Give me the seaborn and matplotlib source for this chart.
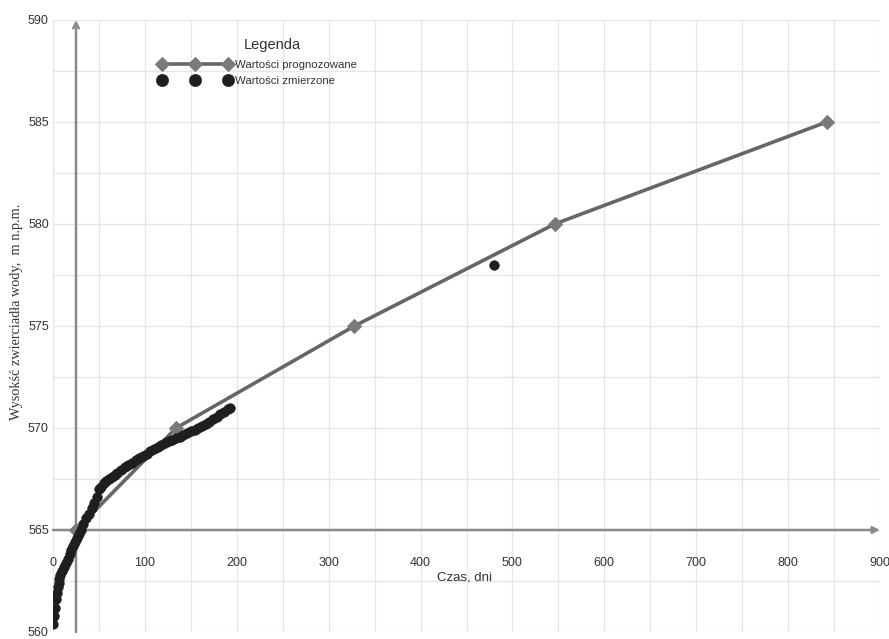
import matplotlib
matplotlib.use("Agg")
import matplotlib.pyplot as plt
import seaborn as sns
import numpy as np
import pandas as pd

# ---- data ----
forecast_days = [25, 134, 328, 546, 842]
forecast_level = [565.0, 570.0, 575.0, 580.0, 585.0]

measured_days = [0, 1, 2, 3, 4, 5, 6, 7, 8, 10, 12, 14, 16, 18, 20, 22, 24, 26, 28, 30,
                 33, 36, 39, 42, 45, 48, 50, 52, 55, 58, 61, 64, 67, 70, 74, 78, 82, 86,
                 90, 94, 98, 102, 106, 110, 114, 118, 122, 126, 130, 134, 138, 142, 146,
                 150, 154, 158, 162, 166, 170, 174, 178, 182, 186, 190, 193, 480]
measured_level = [560.4, 560.8, 561.2, 561.6, 561.9, 562.2, 562.4, 562.6, 562.8, 563.0,
                  563.2, 563.4, 563.6, 563.8, 564.0, 564.2, 564.4, 564.6, 564.8, 565.0,
                  565.3, 565.6, 565.8, 566.1, 566.3, 566.6, 567.0, 567.1, 567.3, 567.4,
                  567.5, 567.6, 567.7, 567.8, 567.95, 568.1, 568.2, 568.3, 568.45, 568.55,
                  568.65, 568.75, 568.85, 568.95, 569.05, 569.15, 569.25, 569.35, 569.4,
                  569.5, 569.55, 569.65, 569.75, 569.85, 569.9, 570.0, 570.1, 570.2, 570.3,
                  570.45, 570.55, 570.7, 570.8, 570.95, 571.0, 578.0]

x_ticks = [0, 100, 200, 300, 400, 500, 600, 700, 800, 900]
y_ticks = [560, 565, 570, 575, 580, 585, 590]

label_forecast = "Wartości prognozowane"
label_measured = "Wartości zmierzone"

df_f = pd.DataFrame({"x": forecast_days, "y": forecast_level})
df_m = pd.DataFrame({"x": measured_days, "y": measured_level})

sns.set_style("white")
plt.rcParams["font.family"] = ["Liberation Sans", "DejaVu Sans"]

fig = plt.figure(figsize=(8.89, 6.39), dpi=100)
ax = fig.add_axes([53 / 889, 7 / 639, 827 / 889, 612 / 639])

ax.set_xlim(0, 900)
ax.set_ylim(560, 590)

# grid
ax.set_xticks(x_ticks)
ax.set_xticks(np.arange(0, 901, 50), minor=True)
ax.set_yticks(y_ticks)
ax.set_yticks(np.arange(560, 590.1, 2.5), minor=True)
ax.grid(True, which="both", color="#e6e6e6", linewidth=1.0, zorder=0)
ax.set_axisbelow(True)

for s in ax.spines.values():
    s.set_visible(False)

# axes arrows
ax.annotate("", xy=(900, 565), xytext=(0, 565),
            arrowprops=dict(arrowstyle="-|>", color="#8a8a8a", lw=1.8,
                            mutation_scale=10, shrinkA=0, shrinkB=0), zorder=1)
ax.annotate("", xy=(25, 590), xytext=(25, 560),
            arrowprops=dict(arrowstyle="->", color="#8a8a8a", lw=1.8,
                            mutation_scale=10, shrinkA=0, shrinkB=0), zorder=1)

sns.lineplot(data=df_f, x="x", y="y", ax=ax, color="#666666", linewidth=2.6,
             marker="D", markersize=7.5, markerfacecolor="#7a7a7a",
             markeredgecolor="#7a7a7a", label=label_forecast, zorder=3, sort=False)
sns.scatterplot(data=df_m, x="x", y="y", ax=ax, color="#1e1e1e", s=50,
                edgecolor="#1e1e1e", linewidth=0.3, label=label_measured, zorder=4)

ax.set_xlabel("")
ax.set_ylabel("")

ax.tick_params(axis="x", which="both", length=0, pad=0, labelbottom=False)
ax.tick_params(axis="y", which="both", length=0, pad=3, labelsize=9, labelcolor="#333333")

for t in x_ticks:
    ax.text(t, 563.4, str(t), ha="center", va="center", fontsize=9, color="#333333")
ax.text(448, 562.65, "Czas, dni", ha="center", va="center", fontsize=9.5, color="#333333")

fig.text(17 / 889, 1 - 312 / 639, "Wysokść zwierciadła wody,  m n.p.m.",
         rotation=90, ha="center", va="center", fontsize=10.3, color="#333333",
         family=["Liberation Serif", "DejaVu Serif"])

leg = ax.legend(loc="upper left", bbox_to_anchor=(153 / 889, 1 - 54 / 639),
                bbox_transform=fig.transFigure, frameon=False, numpoints=3,
                scatterpoints=3, scatteryoffsets=[0.5], handlelength=6.4,
                handletextpad=0.3, labelspacing=0.55, borderpad=0.0,
                fontsize=8.2)
for txt in leg.get_texts():
    txt.set_color("#333333")
leg.legend_handles[1].set_sizes([80])
fig.text(272 / 889, 1 - 45 / 639, "Legenda", ha="center", va="center",
         fontsize=10.5, color="#333333")

fig.savefig("out.png", dpi=100)
